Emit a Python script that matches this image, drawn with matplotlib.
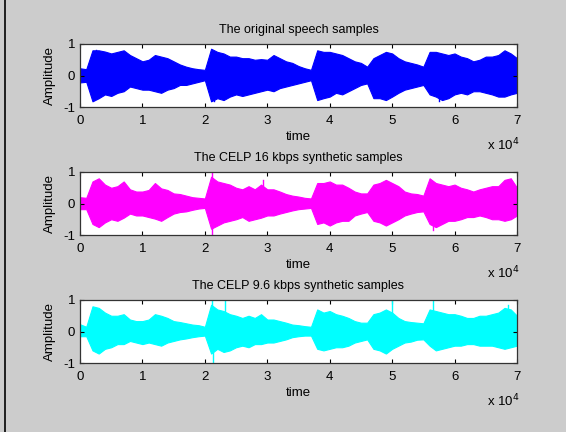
import numpy as np
import matplotlib
matplotlib.use("Agg")
import matplotlib.pyplot as plt
from matplotlib.lines import Line2D

plt.rcParams['font.family'] = ['Liberation Sans', 'DejaVu Sans']
plt.rcParams['font.size'] = 9

# sample index (every 1000 samples) and the envelopes
samples = np.arange(0, 70001, 1000)

orig_up = [0.23, 0.2, 0.8, 0.8, 0.76, 0.7, 0.75, 0.8, 0.65, 0.55, 0.45,
           0.5, 0.65, 0.6, 0.55, 0.45, 0.35, 0.28, 0.23, 0.2, 0.18,
           0.85, 0.75, 0.7, 0.6, 0.6, 0.55, 0.55, 0.5, 0.52, 0.5,
           0.65, 0.55, 0.45, 0.4, 0.3, 0.23, 0.18, 0.8, 0.75, 0.75,
           0.7, 0.65, 0.55, 0.45, 0.4, 0.28, 0.55, 0.65, 0.75, 0.7,
           0.55, 0.45, 0.4, 0.35, 0.28, 0.75, 0.75, 0.7, 0.65, 0.7,
           0.6, 0.55, 0.45, 0.5, 0.6, 0.6, 0.65, 0.8, 0.7, 0.55]
orig_lo = [-0.22, -0.2, -0.82, -0.72, -0.6, -0.65, -0.55, -0.5, -0.35, -0.4, -0.45,
           -0.45, -0.5, -0.55, -0.45, -0.4, -0.3, -0.3, -0.25, -0.2, -0.15,
           -0.82, -0.72, -0.78, -0.67, -0.6, -0.65, -0.6, -0.55, -0.5, -0.45,
           -0.5, -0.4, -0.35, -0.3, -0.25, -0.2, -0.15, -0.78, -0.72, -0.67,
           -0.55, -0.6, -0.5, -0.4, -0.3, -0.25, -0.72, -0.72, -0.78, -0.67,
           -0.55, -0.45, -0.4, -0.35, -0.3, -0.6, -0.67, -0.78, -0.72, -0.6,
           -0.55, -0.6, -0.5, -0.5, -0.55, -0.6, -0.67, -0.67, -0.6, -0.55]

c16_up = [0.2, 0.18, 0.7, 0.8, 0.6, 0.5, 0.55, 0.7, 0.45, 0.38, 0.38,
          0.43, 0.65, 0.48, 0.43, 0.32, 0.3, 0.25, 0.2, 0.18, 0.16,
          0.85, 0.7, 0.65, 0.6, 0.5, 0.45, 0.55, 0.45, 0.6, 0.45,
          0.45, 0.38, 0.3, 0.25, 0.22, 0.18, 0.16, 0.65, 0.65, 0.7,
          0.6, 0.6, 0.5, 0.38, 0.32, 0.32, 0.6, 0.65, 0.75, 0.65,
          0.55, 0.38, 0.32, 0.3, 0.25, 0.8, 0.65, 0.6, 0.55, 0.6,
          0.5, 0.45, 0.38, 0.45, 0.5, 0.55, 0.55, 0.75, 0.8, 0.5]
c16_lo = [-0.18, -0.18, -0.65, -0.75, -0.6, -0.5, -0.55, -0.45, -0.32, -0.38, -0.38,
          -0.43, -0.48, -0.55, -0.43, -0.32, -0.27, -0.25, -0.2, -0.16, -0.14,
          -0.8, -0.7, -0.6, -0.55, -0.5, -0.43, -0.55, -0.5, -0.45, -0.38,
          -0.38, -0.32, -0.27, -0.22, -0.18, -0.16, -0.14, -0.65, -0.6, -0.7,
          -0.6, -0.55, -0.55, -0.38, -0.32, -0.27, -0.55, -0.6, -0.7, -0.6,
          -0.5, -0.38, -0.32, -0.27, -0.25, -0.65, -0.75, -0.65, -0.55, -0.55,
          -0.5, -0.43, -0.43, -0.38, -0.43, -0.5, -0.5, -0.55, -0.5, -0.38]

c96_up = [0.23, 0.15, 0.8, 0.75, 0.6, 0.5, 0.5, 0.55, 0.38, 0.33, 0.33,
          0.38, 0.55, 0.5, 0.43, 0.33, 0.3, 0.26, 0.22, 0.2, 0.15,
          0.85, 0.7, 0.65, 0.55, 0.5, 0.43, 0.5, 0.43, 0.55, 0.38,
          0.38, 0.33, 0.28, 0.22, 0.2, 0.17, 0.15, 0.7, 0.6, 0.65,
          0.55, 0.5, 0.43, 0.33, 0.28, 0.28, 0.55, 0.6, 0.7, 0.6,
          0.43, 0.33, 0.3, 0.28, 0.26, 0.7, 0.65, 0.6, 0.55, 0.55,
          0.5, 0.43, 0.43, 0.5, 0.5, 0.55, 0.6, 0.75, 0.7, 0.5]
c96_lo = [-0.15, -0.15, -0.6, -0.7, -0.55, -0.5, -0.4, -0.4, -0.3, -0.35, -0.4,
          -0.35, -0.4, -0.45, -0.35, -0.3, -0.25, -0.22, -0.18, -0.15, -0.13,
          -0.7, -0.55, -0.65, -0.6, -0.5, -0.45, -0.5, -0.4, -0.4, -0.35,
          -0.35, -0.3, -0.25, -0.18, -0.15, -0.13, -0.13, -0.55, -0.6, -0.55,
          -0.5, -0.5, -0.45, -0.35, -0.3, -0.25, -0.55, -0.6, -0.7, -0.55,
          -0.45, -0.35, -0.32, -0.26, -0.25, -0.45, -0.6, -0.55, -0.5, -0.45,
          -0.45, -0.4, -0.4, -0.45, -0.45, -0.45, -0.5, -0.55, -0.5, -0.45]

# isolated spikes (sample, value)
orig_spikes = [(2500, 0.82), (21500, -0.82), (57500, -0.82)]
c16_spikes = [(21200, 1.0), (21200, -1.0), (29300, 0.75), (56500, -0.85)]
c96_spikes = [(21200, 1.0), (21300, -1.0), (23300, 1.0), (49900, 1.0),
              (56500, 1.0), (68500, 0.85)]

titles = ['The original speech samples',
          'The CELP 16 kbps synthetic samples',
          'The CELP 9.6 kbps synthetic samples']
colors = ['#0000ff', '#ff00ff', '#00ffff']
series = [(orig_up, orig_lo, orig_spikes),
          (c16_up, c16_lo, c16_spikes),
          (c96_up, c96_lo, c96_spikes)]
xtick_labels = ['0', '1', '2', '3', '4', '5', '6', '7']

W, H = 566, 432
fig = plt.figure(figsize=(W / 100, H / 100), dpi=100, facecolor='#cccccc')
fig.add_artist(Line2D([5 / W, 5 / W], [0, 1], color='black', lw=1.2))

tops = [44, 172, 300]
for i, (up, lo, spikes) in enumerate(series):
    ax = fig.add_axes([80 / W, 1 - (tops[i] + 63) / H, 437 / W, 63 / H])
    ax.fill_between(samples, lo, up, color=colors[i], lw=0.8, edgecolor=colors[i])
    for s, v in spikes:
        ax.plot([s, s], [0, v], color=colors[i], lw=1)
    ax.set_xlim(0, 70000)
    ax.set_ylim(-1, 1)
    ax.set_xticks(np.arange(0, 70001, 10000))
    ax.set_xticklabels(xtick_labels)
    ax.set_yticks([-1, 0, 1])
    ax.set_yticklabels(['-1', '0', '1'])
    ax.tick_params(direction='in', top=True, right=True, length=3, width=0.8,
                   labelsize=9.5)
    ax.tick_params(axis='x', pad=5.5)
    ax.tick_params(axis='y', pad=3.5)
    for sp in ax.spines.values():
        sp.set_linewidth(0.9)
        sp.set_color('#333333')
    ax.set_title(titles[i], fontsize=9, pad=8)
    ax.set_xlabel('time', fontsize=9.5, labelpad=3)
    ax.set_ylabel('Amplitude', fontsize=9.5, labelpad=5)
    fig.text(487 / W, 1 - (tops[i] + 101) / H, r'x 10$^4$', fontsize=9.5,
             ha='left', va='center')

fig.savefig('out.png', dpi=100, facecolor=fig.get_facecolor())
